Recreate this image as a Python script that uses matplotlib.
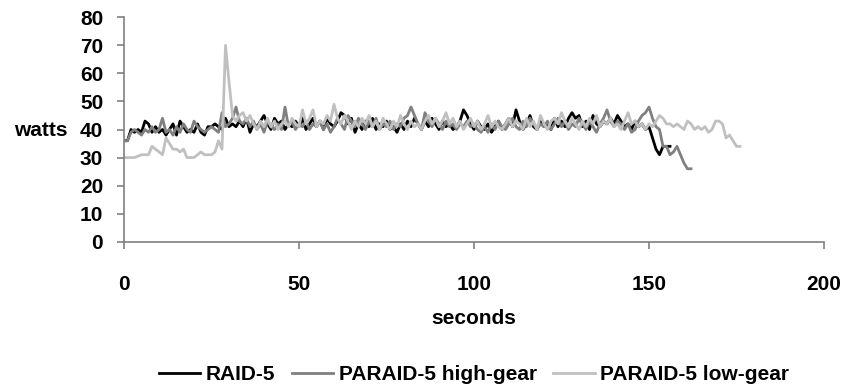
import matplotlib
matplotlib.use("Agg")
import matplotlib.pyplot as plt

raid5 = [36, 36, 40, 39, 40, 39, 43, 42, 39, 41, 39, 40, 38, 40, 42, 38, 43, 41, 39, 40,
         39, 42, 39, 38, 41, 41, 42, 41, 40, 44, 41, 42, 41, 43, 41, 44, 39, 42, 41, 43,
         45, 42, 40, 44, 42, 43, 40, 42, 41, 43, 41, 44, 40, 42, 44, 41, 43, 40, 44, 42,
         41, 43, 46, 45, 42, 44, 39, 42, 40, 43, 41, 44, 40, 42, 41, 43, 40, 41, 39, 42,
         40, 43, 41, 44, 42, 40, 43, 41, 44, 42, 40, 43, 41, 42, 40, 41, 43, 47, 45, 42,
         40, 43, 41, 40, 42, 39, 41, 43, 40, 42, 44, 41, 47, 43, 40, 42, 45, 41, 40, 43,
         41, 42, 40, 44, 41, 43, 41, 44, 46, 44, 45, 41, 43, 40, 45, 42, 41, 43, 42, 44,
         42, 45, 43, 41, 42, 40, 43, 41, 42, 40, 41, 37, 33, 31, 34, 34, 34]

high_gear = [36, 36, 39, 40, 39, 38, 40, 39, 41, 39, 40, 44, 39, 40, 38, 41, 39, 42, 40, 39,
             43, 41, 40, 39, 40, 41, 40, 39, 46, 41, 42, 44, 48, 43, 42, 44, 41, 43, 40, 42,
             39, 43, 41, 40, 42, 40, 48, 41, 43, 40, 42, 41, 43, 40, 42, 41, 43, 40, 42, 39,
             41, 44, 42, 40, 45, 43, 41, 44, 42, 40, 43, 41, 44, 40, 42, 41, 43, 40, 42, 41,
             44, 45, 48, 45, 42, 40, 46, 43, 41, 44, 42, 40, 43, 41, 42, 40, 42, 41, 43, 41,
             42, 40, 39, 41, 39, 42, 40, 43, 41, 40, 42, 44, 41, 40, 43, 41, 44, 42, 40, 42,
             41, 43, 40, 42, 44, 41, 43, 40, 42, 41, 44, 42, 40, 43, 41, 39, 42, 44, 47, 43,
             41, 43, 42, 40, 42, 39, 40, 43, 45, 46, 48, 44, 41, 40, 34, 34, 31, 32, 34, 31,
             28, 26, 26]

low_gear = [30, 30, 30, 30, 30.5, 31, 31, 31, 34, 33, 32, 31, 37, 35, 33, 33, 32, 33, 30, 30,
            30, 31, 32, 31, 31, 31, 32, 36, 33, 70, 57, 45, 43, 45, 46, 43, 45, 42, 40, 43,
            41, 44, 41, 43, 40, 42, 43, 41, 44, 42, 41, 47, 42, 44, 47, 41, 43, 42, 45, 43,
            49, 44, 42, 45, 43, 40, 43, 41, 44, 42, 45, 41, 43, 40, 44, 42, 40, 43, 41, 45,
            42, 40, 43, 41, 42, 40, 43, 45, 42, 44, 41, 43, 46, 42, 44, 41, 43, 40, 42, 44,
            41, 43, 40, 42, 45, 41, 43, 41, 40, 42, 44, 41, 43, 42, 40, 44, 41, 43, 40, 45,
            42, 40, 43, 44, 42, 46, 43, 41, 44, 42, 40, 43, 41, 44, 42, 45, 41, 43, 42, 44,
            41, 42, 40, 43, 46, 42, 43, 41, 42, 40, 42, 41, 43, 45, 44, 42, 42, 41, 42, 41,
            40, 43, 42, 40, 41, 40, 41, 39, 40, 43, 43, 42, 37, 38, 36, 34, 34]

series = [("RAID-5", raid5, "#000000"),
          ("PARAID-5 high-gear", high_gear, "#808080"),
          ("PARAID-5 low-gear", low_gear, "#c0c0c0")]

plt.rcParams['font.family'] = ['Liberation Sans', 'DejaVu Sans']
plt.rcParams['font.weight'] = 'bold'
FS = 15

fig = plt.figure(figsize=(8.47, 3.89), dpi=100)
ax = fig.add_axes([124/847, (389-241.7)/389, 700/847, 224.4/389])

for name, vals, col in series:
    ax.plot(range(len(vals)), vals, color=col, lw=2.0, label=name)

ax.set_xlim(0, 200)
ax.set_ylim(0, 80)
ax.set_xticks([0, 50, 100, 150, 200])
ax.set_yticks(range(0, 81, 10))
for s in ["top", "right"]:
    ax.spines[s].set_visible(False)
for s in ["left", "bottom"]:
    ax.spines[s].set_color("#808080")
    ax.spines[s].set_linewidth(1.2)
ax.tick_params(axis='both', colors="#808080", length=5, width=1.2, labelcolor='black',
               labelsize=FS)
ax.tick_params(axis='x', pad=19)
ax.tick_params(axis='y', pad=10)
for lab in ax.get_xticklabels() + ax.get_yticklabels():
    lab.set_fontweight('bold')

fig.text(41/847, 1 - 130/389, "watts", ha='center', va='center', fontsize=FS, fontweight='bold')
fig.text(474/847, 1 - 318/389, "seconds", ha='center', va='center', fontsize=FS, fontweight='bold')

fig.legend(loc='center', bbox_to_anchor=(474/847, 1 - 375/389), ncol=3, frameon=False,
           handlelength=2.0, handletextpad=0.25, columnspacing=0.8,
           prop={'weight': 'bold', 'size': FS})

fig.savefig("out.png", dpi=100)
